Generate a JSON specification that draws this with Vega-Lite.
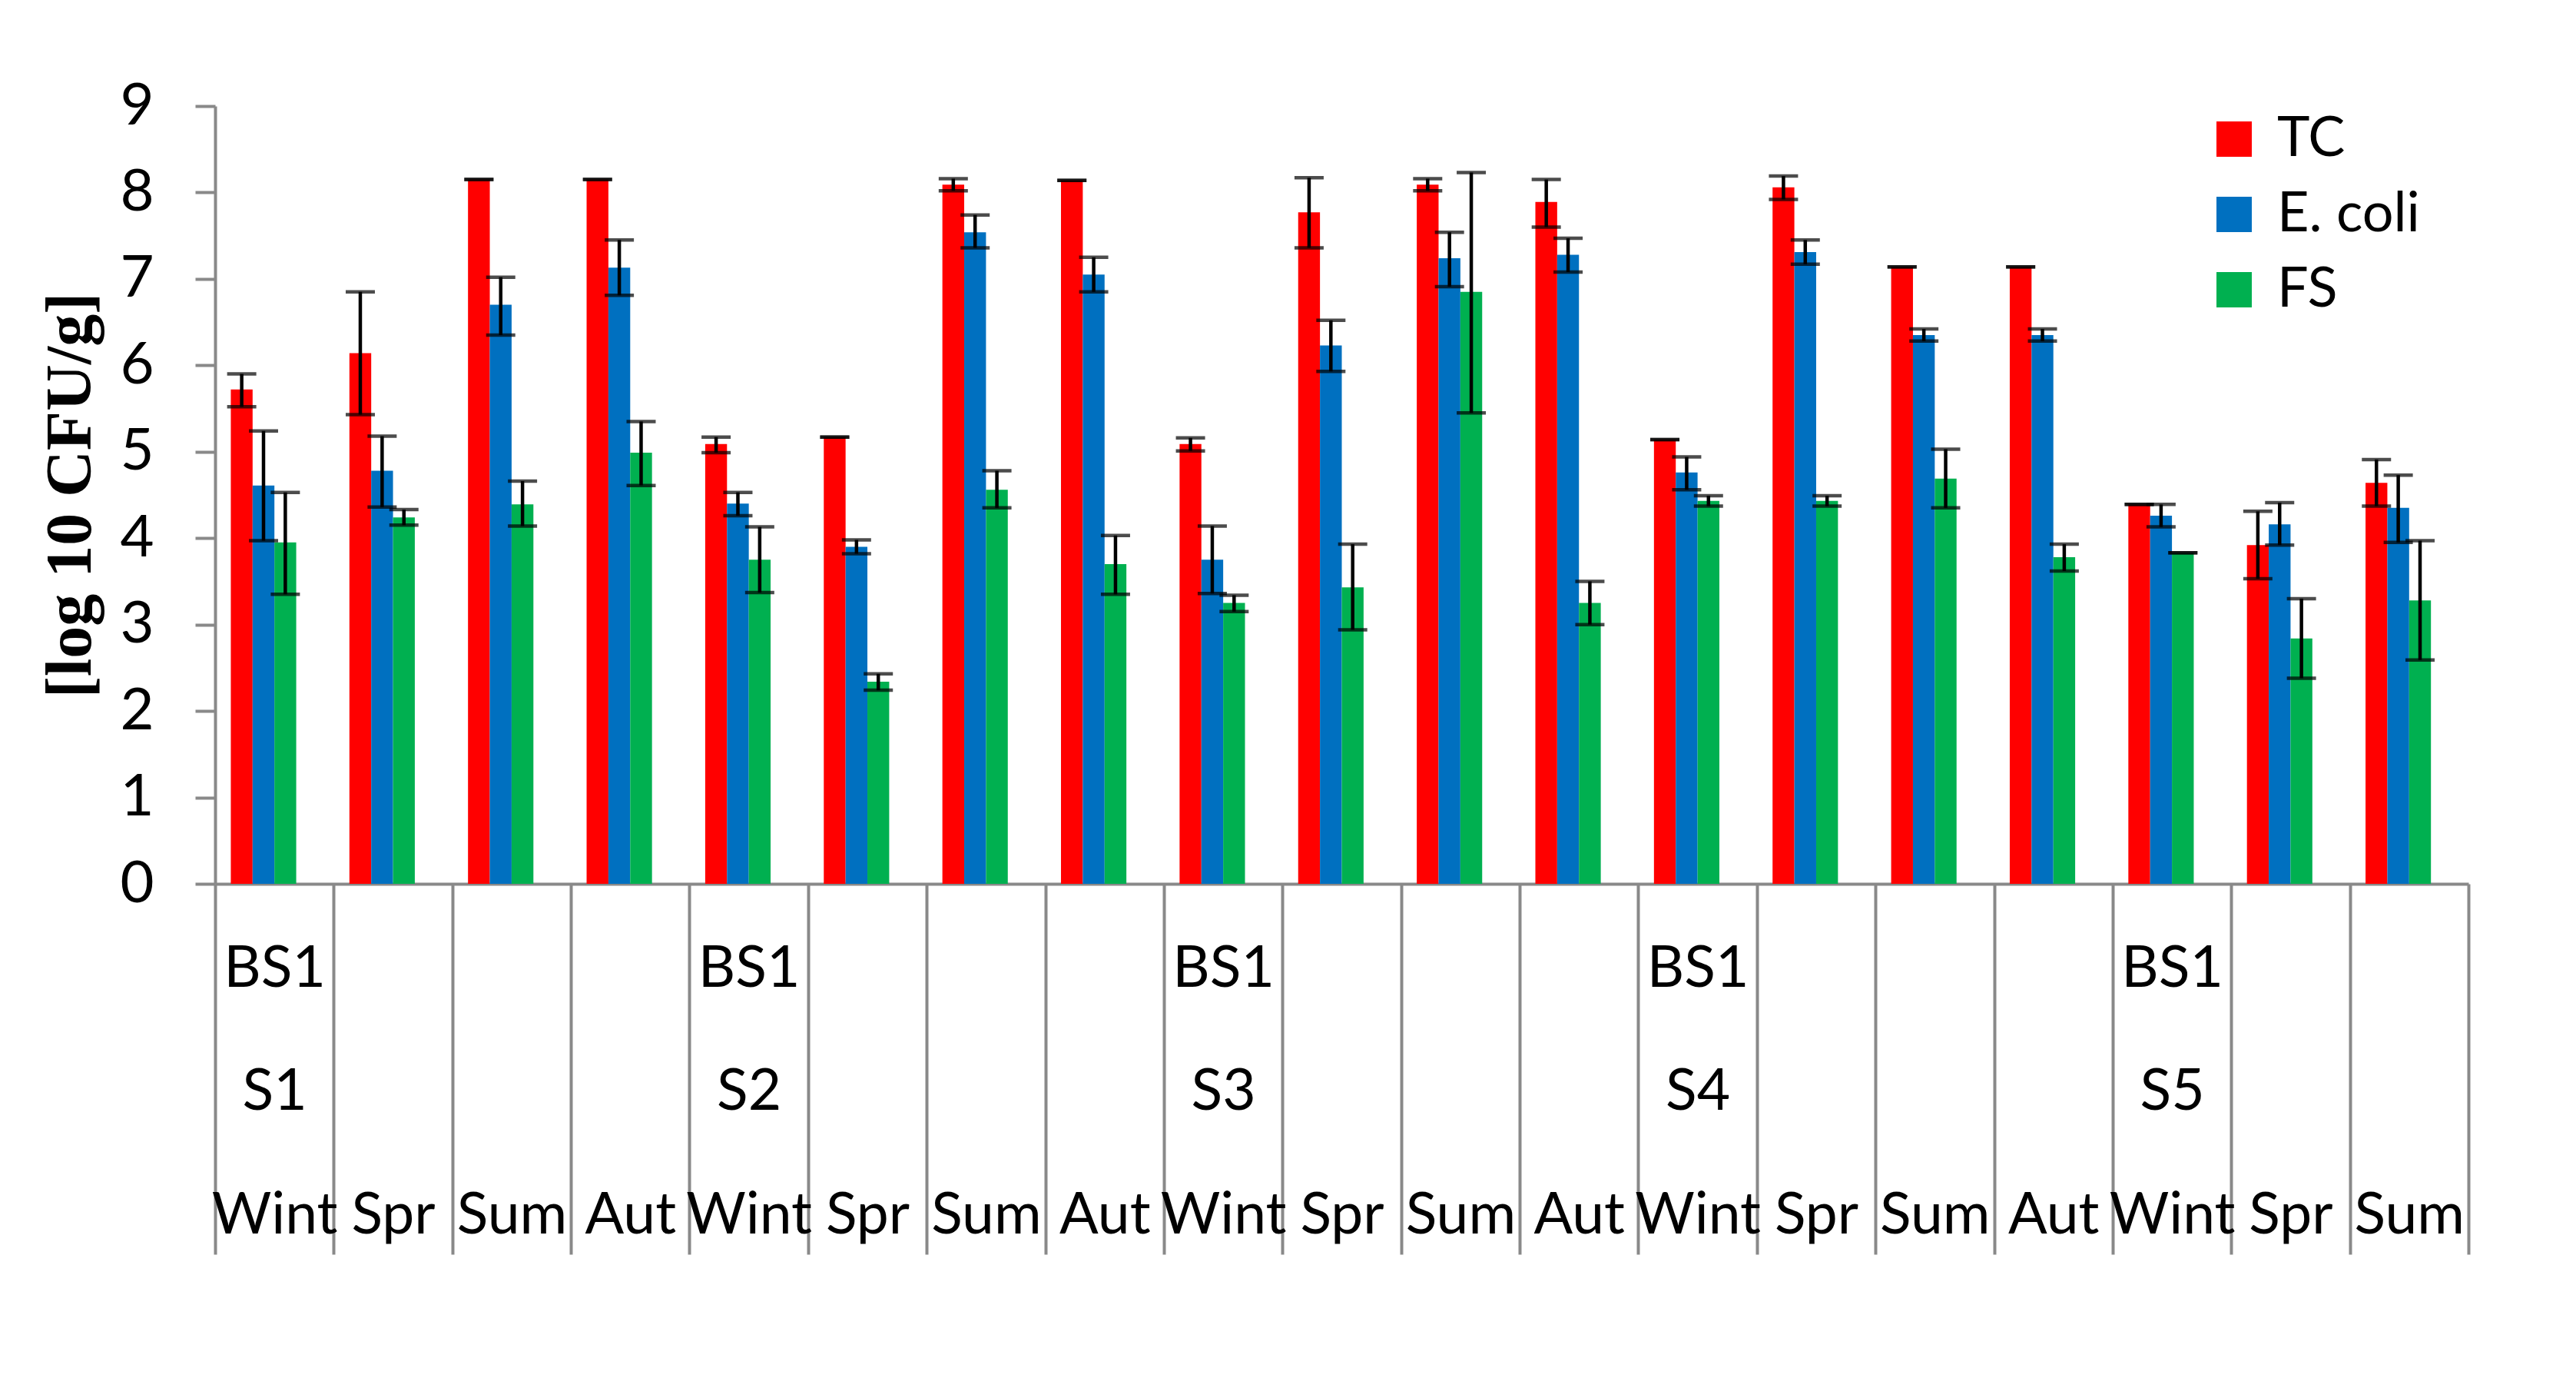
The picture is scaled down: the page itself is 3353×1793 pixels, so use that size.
{
  "$schema": "https://vega.github.io/schema/vega-lite/v6.json",
  "width": 2933,
  "height": 1012,
  "autosize": "none",
  "padding": {"left": 280, "top": 138, "right": 140, "bottom": 643},
  "background": "white",
  "config": {"view": {"stroke": null}, "font": "Lato"},
  "data": {"values": [
    {"c": "BS1/S1/Wint", "s": "TC", "v": 5.72, "lo": 5.52, "hi": 5.90},
    {"c": "BS1/S1/Wint", "s": "E. coli", "v": 4.61, "lo": 3.97, "hi": 5.24},
    {"c": "BS1/S1/Wint", "s": "FS", "v": 3.95, "lo": 3.35, "hi": 4.53},
    {"c": "S1/Spr", "s": "TC", "v": 6.14, "lo": 5.43, "hi": 6.85},
    {"c": "S1/Spr", "s": "E. coli", "v": 4.78, "lo": 4.36, "hi": 5.18},
    {"c": "S1/Spr", "s": "FS", "v": 4.24, "lo": 4.15, "hi": 4.33},
    {"c": "S1/Sum", "s": "TC", "v": 8.15, "lo": 8.15, "hi": 8.15},
    {"c": "S1/Sum", "s": "E. coli", "v": 6.70, "lo": 6.35, "hi": 7.02},
    {"c": "S1/Sum", "s": "FS", "v": 4.39, "lo": 4.14, "hi": 4.66},
    {"c": "S1/Aut", "s": "TC", "v": 8.15, "lo": 8.15, "hi": 8.15},
    {"c": "S1/Aut", "s": "E. coli", "v": 7.13, "lo": 6.81, "hi": 7.45},
    {"c": "S1/Aut", "s": "FS", "v": 4.99, "lo": 4.61, "hi": 5.35},
    {"c": "BS1/S2/Wint", "s": "TC", "v": 5.09, "lo": 4.99, "hi": 5.17},
    {"c": "BS1/S2/Wint", "s": "E. coli", "v": 4.40, "lo": 4.26, "hi": 4.53},
    {"c": "BS1/S2/Wint", "s": "FS", "v": 3.75, "lo": 3.37, "hi": 4.13},
    {"c": "S2/Spr", "s": "TC", "v": 5.17, "lo": 5.17, "hi": 5.17},
    {"c": "S2/Spr", "s": "E. coli", "v": 3.90, "lo": 3.82, "hi": 3.98},
    {"c": "S2/Spr", "s": "FS", "v": 2.34, "lo": 2.24, "hi": 2.43},
    {"c": "S2/Sum", "s": "TC", "v": 8.09, "lo": 8.02, "hi": 8.16},
    {"c": "S2/Sum", "s": "E. coli", "v": 7.54, "lo": 7.36, "hi": 7.74},
    {"c": "S2/Sum", "s": "FS", "v": 4.56, "lo": 4.35, "hi": 4.78},
    {"c": "S2/Aut", "s": "TC", "v": 8.14, "lo": 8.14, "hi": 8.14},
    {"c": "S2/Aut", "s": "E. coli", "v": 7.05, "lo": 6.85, "hi": 7.25},
    {"c": "S2/Aut", "s": "FS", "v": 3.70, "lo": 3.35, "hi": 4.03},
    {"c": "BS1/S3/Wint", "s": "TC", "v": 5.09, "lo": 5.01, "hi": 5.16},
    {"c": "BS1/S3/Wint", "s": "E. coli", "v": 3.75, "lo": 3.36, "hi": 4.14},
    {"c": "BS1/S3/Wint", "s": "FS", "v": 3.25, "lo": 3.15, "hi": 3.34},
    {"c": "S3/Spr", "s": "TC", "v": 7.77, "lo": 7.36, "hi": 8.17},
    {"c": "S3/Spr", "s": "E. coli", "v": 6.23, "lo": 5.93, "hi": 6.52},
    {"c": "S3/Spr", "s": "FS", "v": 3.43, "lo": 2.94, "hi": 3.93},
    {"c": "S3/Sum", "s": "TC", "v": 8.09, "lo": 8.02, "hi": 8.16},
    {"c": "S3/Sum", "s": "E. coli", "v": 7.24, "lo": 6.91, "hi": 7.54},
    {"c": "S3/Sum", "s": "FS", "v": 6.85, "lo": 5.45, "hi": 8.23},
    {"c": "S3/Aut", "s": "TC", "v": 7.89, "lo": 7.60, "hi": 8.15},
    {"c": "S3/Aut", "s": "E. coli", "v": 7.28, "lo": 7.08, "hi": 7.47},
    {"c": "S3/Aut", "s": "FS", "v": 3.25, "lo": 3.00, "hi": 3.50},
    {"c": "BS1/S4/Wint", "s": "TC", "v": 5.14, "lo": 5.14, "hi": 5.14},
    {"c": "BS1/S4/Wint", "s": "E. coli", "v": 4.76, "lo": 4.56, "hi": 4.94},
    {"c": "BS1/S4/Wint", "s": "FS", "v": 4.43, "lo": 4.37, "hi": 4.49},
    {"c": "S4/Spr", "s": "TC", "v": 8.06, "lo": 7.92, "hi": 8.19},
    {"c": "S4/Spr", "s": "E. coli", "v": 7.31, "lo": 7.17, "hi": 7.45},
    {"c": "S4/Spr", "s": "FS", "v": 4.43, "lo": 4.37, "hi": 4.49},
    {"c": "S4/Sum", "s": "TC", "v": 7.14, "lo": 7.14, "hi": 7.14},
    {"c": "S4/Sum", "s": "E. coli", "v": 6.35, "lo": 6.28, "hi": 6.42},
    {"c": "S4/Sum", "s": "FS", "v": 4.69, "lo": 4.35, "hi": 5.03},
    {"c": "S4/Aut", "s": "TC", "v": 7.14, "lo": 7.14, "hi": 7.14},
    {"c": "S4/Aut", "s": "E. coli", "v": 6.35, "lo": 6.28, "hi": 6.42},
    {"c": "S4/Aut", "s": "FS", "v": 3.78, "lo": 3.62, "hi": 3.93},
    {"c": "BS1/S5/Wint", "s": "TC", "v": 4.39, "lo": 4.39, "hi": 4.39},
    {"c": "BS1/S5/Wint", "s": "E. coli", "v": 4.26, "lo": 4.13, "hi": 4.39},
    {"c": "BS1/S5/Wint", "s": "FS", "v": 3.83, "lo": 3.83, "hi": 3.83},
    {"c": "S5/Spr", "s": "TC", "v": 3.92, "lo": 3.53, "hi": 4.31},
    {"c": "S5/Spr", "s": "E. coli", "v": 4.16, "lo": 3.92, "hi": 4.41},
    {"c": "S5/Spr", "s": "FS", "v": 2.84, "lo": 2.38, "hi": 3.30},
    {"c": "S5/Sum", "s": "TC", "v": 4.64, "lo": 4.37, "hi": 4.91},
    {"c": "S5/Sum", "s": "E. coli", "v": 4.35, "lo": 3.95, "hi": 4.73},
    {"c": "S5/Sum", "s": "FS", "v": 3.28, "lo": 2.59, "hi": 3.97}
  ]},
  "encoding": {
    "x": {
      "field": "c", "type": "nominal", "sort": null,
      "scale": {"paddingInner": 0, "paddingOuter": 0},
      "axis": {
        "title": null, "tickBand": "extent", "tickSize": 482, "tickWidth": 4,
        "tickColor": "#898989", "domainColor": "#898989", "domainWidth": 4,
        "labelAngle": 0, "labelFont": "Lato", "labelFontSize": 75, "labelColor": "black",
        "labelBaseline": "top", "labelAlign": "center", "labelLineHeight": 160.5,
        "labelPadding": -408, "labelOverlap": false, "labelBound": false, "labelLimit": 0,
        "labelExpr": "length(split(datum.value, '/')) == 3 ? split(datum.value, '/') : ['\u200b', '\u200b', split(datum.value, '/')[1]]",
        "grid": false
      }
    },
    "xOffset": {
      "field": "s", "type": "nominal",
      "scale": {"domain": ["TC", "E. coli", "FS", "pad"], "paddingInner": 0, "paddingOuter": 0.72}
    }
  },
  "layer": [
    {
      "mark": {"type": "bar"},
      "encoding": {
        "y": {
          "field": "v", "type": "quantitative", "title": "[log 10 CFU/g]",
          "scale": {"domain": [0, 9], "nice": false},
          "axis": {
            "values": [0, 1, 2, 3, 4, 5, 6, 7, 8, 9], "format": "d", "grid": false,
            "tickSize": 26, "tickWidth": 4, "tickColor": "#898989",
            "domainWidth": 4, "domainColor": "#898989",
            "labelFont": "Lato", "labelFontSize": 76, "labelPadding": 54, "labelColor": "black",
            "titleFont": "Liberation Serif", "titleFontWeight": "bold", "titleFontSize": 84,
            "titleColor": "black", "titlePadding": 20
          }
        },
        "color": {
          "field": "s", "type": "nominal",
          "scale": {"domain": ["TC", "E. coli", "FS"], "range": ["#FF0000", "#0070C0", "#00B050"]},
          "legend": {
            "orient": "none", "legendX": 2592, "legendY": 7, "title": null,
            "symbolType": "square", "symbolSize": 2116, "symbolStrokeWidth": 0,
            "labelFont": "Lato", "labelFontSize": 72, "labelColor": "black", "labelLimit": 0,
            "rowPadding": 26, "labelOffset": 20, "padding": 0
          }
        }
      }
    },
    {
      "mark": {"type": "rule", "color": "black", "strokeWidth": 4.5},
      "encoding": {
        "y": {"field": "lo", "type": "quantitative", "title": "[log 10 CFU/g]"},
        "y2": {"field": "hi"}
      }
    },
    {
      "mark": {"type": "tick", "color": "black", "thickness": 4.5, "size": 38, "orient": "horizontal"},
      "encoding": {
        "y": {"field": "lo", "type": "quantitative", "title": "[log 10 CFU/g]"}
      }
    },
    {
      "mark": {"type": "tick", "color": "black", "thickness": 4.5, "size": 38, "orient": "horizontal"},
      "encoding": {
        "y": {"field": "hi", "type": "quantitative", "title": "[log 10 CFU/g]"}
      }
    }
  ]
}
